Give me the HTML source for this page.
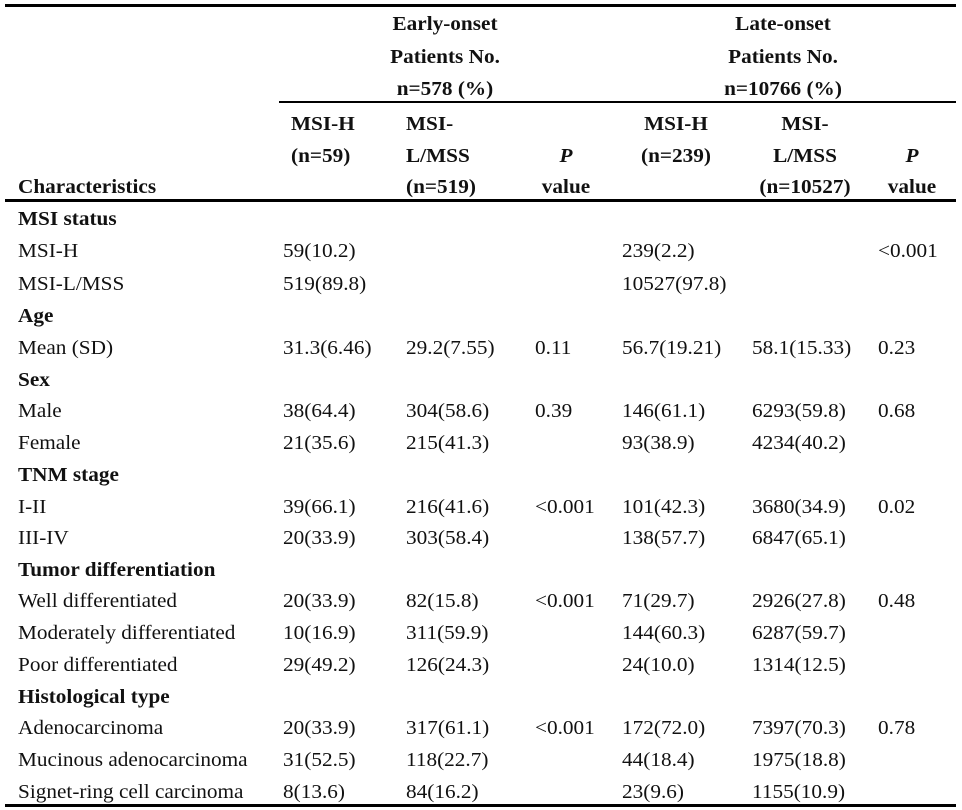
<!DOCTYPE html>
<html><head><meta charset="utf-8"><style>
body{margin:0;width:962px;height:810px;background:#fff;position:relative;overflow:hidden;font-family:"Liberation Serif",serif;font-size:19.5px;color:#111}
.t{position:absolute;white-space:nowrap;line-height:22px;transform-origin:0 50%;transform:translateY(-9px) scaleX(1.09)}
.b{font-weight:bold}
.c{transform-origin:50% 50%;transform:translate(-50%,-9px) scaleX(1.09)}
.l{position:absolute;background:#000;height:3px}
</style></head><body>
<div class="l" style="left:5px;top:4px;width:951px"></div>
<div class="l" style="left:279px;top:101px;width:677px;height:2px"></div>
<div class="l" style="left:5px;top:199px;width:951px"></div>
<div class="l" style="left:5px;top:804px;width:951px"></div>

<div class="t b c" style="left:445px;top:23px">Early-onset</div>
<div class="t b c" style="left:445px;top:56px">Patients No.</div>
<div class="t b c" style="left:445px;top:88px">n=578 (%)</div>
<div class="t b c" style="left:783px;top:23px">Late-onset</div>
<div class="t b c" style="left:783px;top:56px">Patients No.</div>
<div class="t b c" style="left:783px;top:88px">n=10766 (%)</div>

<div class="t b" style="left:291px;top:123px">MSI-H</div>
<div class="t b" style="left:291px;top:155px">(n=59)</div>
<div class="t b" style="left:406px;top:123px">MSI-</div>
<div class="t b" style="left:406px;top:155px">L/MSS</div>
<div class="t b" style="left:406px;top:186px">(n=519)</div>
<div class="t b c" style="left:566px;top:155px"><i>P</i></div>
<div class="t b c" style="left:566px;top:186px">value</div>
<div class="t b c" style="left:676px;top:123px">MSI-H</div>
<div class="t b c" style="left:676px;top:155px">(n=239)</div>
<div class="t b c" style="left:805px;top:123px">MSI-</div>
<div class="t b c" style="left:805px;top:155px">L/MSS</div>
<div class="t b c" style="left:805px;top:186px">(n=10527)</div>
<div class="t b c" style="left:912px;top:155px"><i>P</i></div>
<div class="t b c" style="left:912px;top:186px">value</div>
<div class="t b" style="left:18px;top:186px">Characteristics</div>

<div class="t b" style="left:18px;top:218px">MSI status</div>
<div class="t" style="left:18px;top:250px">MSI-H</div>
<div class="t" style="left:283px;top:250px">59(10.2)</div>
<div class="t" style="left:622px;top:250px">239(2.2)</div>
<div class="t" style="left:878px;top:250px">&lt;0.001</div>
<div class="t" style="left:18px;top:283px">MSI-L/MSS</div>
<div class="t" style="left:283px;top:283px">519(89.8)</div>
<div class="t" style="left:622px;top:283px">10527(97.8)</div>

<div class="t b" style="left:18px;top:315px">Age</div>
<div class="t" style="left:18px;top:347px">Mean (SD)</div>
<div class="t" style="left:283px;top:347px">31.3(6.46)</div>
<div class="t" style="left:406px;top:347px">29.2(7.55)</div>
<div class="t" style="left:535px;top:347px">0.11</div>
<div class="t" style="left:622px;top:347px">56.7(19.21)</div>
<div class="t" style="left:752px;top:347px">58.1(15.33)</div>
<div class="t" style="left:878px;top:347px">0.23</div>

<div class="t b" style="left:18px;top:379px">Sex</div>
<div class="t" style="left:18px;top:410px">Male</div>
<div class="t" style="left:283px;top:410px">38(64.4)</div>
<div class="t" style="left:406px;top:410px">304(58.6)</div>
<div class="t" style="left:535px;top:410px">0.39</div>
<div class="t" style="left:622px;top:410px">146(61.1)</div>
<div class="t" style="left:752px;top:410px">6293(59.8)</div>
<div class="t" style="left:878px;top:410px">0.68</div>
<div class="t" style="left:18px;top:442px">Female</div>
<div class="t" style="left:283px;top:442px">21(35.6)</div>
<div class="t" style="left:406px;top:442px">215(41.3)</div>
<div class="t" style="left:622px;top:442px">93(38.9)</div>
<div class="t" style="left:752px;top:442px">4234(40.2)</div>

<div class="t b" style="left:18px;top:474px">TNM stage</div>
<div class="t" style="left:18px;top:506px">I-II</div>
<div class="t" style="left:283px;top:506px">39(66.1)</div>
<div class="t" style="left:406px;top:506px">216(41.6)</div>
<div class="t" style="left:535px;top:506px">&lt;0.001</div>
<div class="t" style="left:622px;top:506px">101(42.3)</div>
<div class="t" style="left:752px;top:506px">3680(34.9)</div>
<div class="t" style="left:878px;top:506px">0.02</div>
<div class="t" style="left:18px;top:537px">III-IV</div>
<div class="t" style="left:283px;top:537px">20(33.9)</div>
<div class="t" style="left:406px;top:537px">303(58.4)</div>
<div class="t" style="left:622px;top:537px">138(57.7)</div>
<div class="t" style="left:752px;top:537px">6847(65.1)</div>

<div class="t b" style="left:18px;top:569px">Tumor differentiation</div>
<div class="t" style="left:18px;top:600px">Well differentiated</div>
<div class="t" style="left:283px;top:600px">20(33.9)</div>
<div class="t" style="left:406px;top:600px">82(15.8)</div>
<div class="t" style="left:535px;top:600px">&lt;0.001</div>
<div class="t" style="left:622px;top:600px">71(29.7)</div>
<div class="t" style="left:752px;top:600px">2926(27.8)</div>
<div class="t" style="left:878px;top:600px">0.48</div>
<div class="t" style="left:18px;top:632px">Moderately differentiated</div>
<div class="t" style="left:283px;top:632px">10(16.9)</div>
<div class="t" style="left:406px;top:632px">311(59.9)</div>
<div class="t" style="left:622px;top:632px">144(60.3)</div>
<div class="t" style="left:752px;top:632px">6287(59.7)</div>
<div class="t" style="left:18px;top:664px">Poor differentiated</div>
<div class="t" style="left:283px;top:664px">29(49.2)</div>
<div class="t" style="left:406px;top:664px">126(24.3)</div>
<div class="t" style="left:622px;top:664px">24(10.0)</div>
<div class="t" style="left:752px;top:664px">1314(12.5)</div>

<div class="t b" style="left:18px;top:696px">Histological type</div>
<div class="t" style="left:18px;top:727px">Adenocarcinoma</div>
<div class="t" style="left:283px;top:727px">20(33.9)</div>
<div class="t" style="left:406px;top:727px">317(61.1)</div>
<div class="t" style="left:535px;top:727px">&lt;0.001</div>
<div class="t" style="left:622px;top:727px">172(72.0)</div>
<div class="t" style="left:752px;top:727px">7397(70.3)</div>
<div class="t" style="left:878px;top:727px">0.78</div>
<div class="t" style="left:18px;top:759px">Mucinous adenocarcinoma</div>
<div class="t" style="left:283px;top:759px">31(52.5)</div>
<div class="t" style="left:406px;top:759px">118(22.7)</div>
<div class="t" style="left:622px;top:759px">44(18.4)</div>
<div class="t" style="left:752px;top:759px">1975(18.8)</div>
<div class="t" style="left:18px;top:791px">Signet-ring cell carcinoma</div>
<div class="t" style="left:283px;top:791px">8(13.6)</div>
<div class="t" style="left:406px;top:791px">84(16.2)</div>
<div class="t" style="left:622px;top:791px">23(9.6)</div>
<div class="t" style="left:752px;top:791px">1155(10.9)</div>
</body></html>
